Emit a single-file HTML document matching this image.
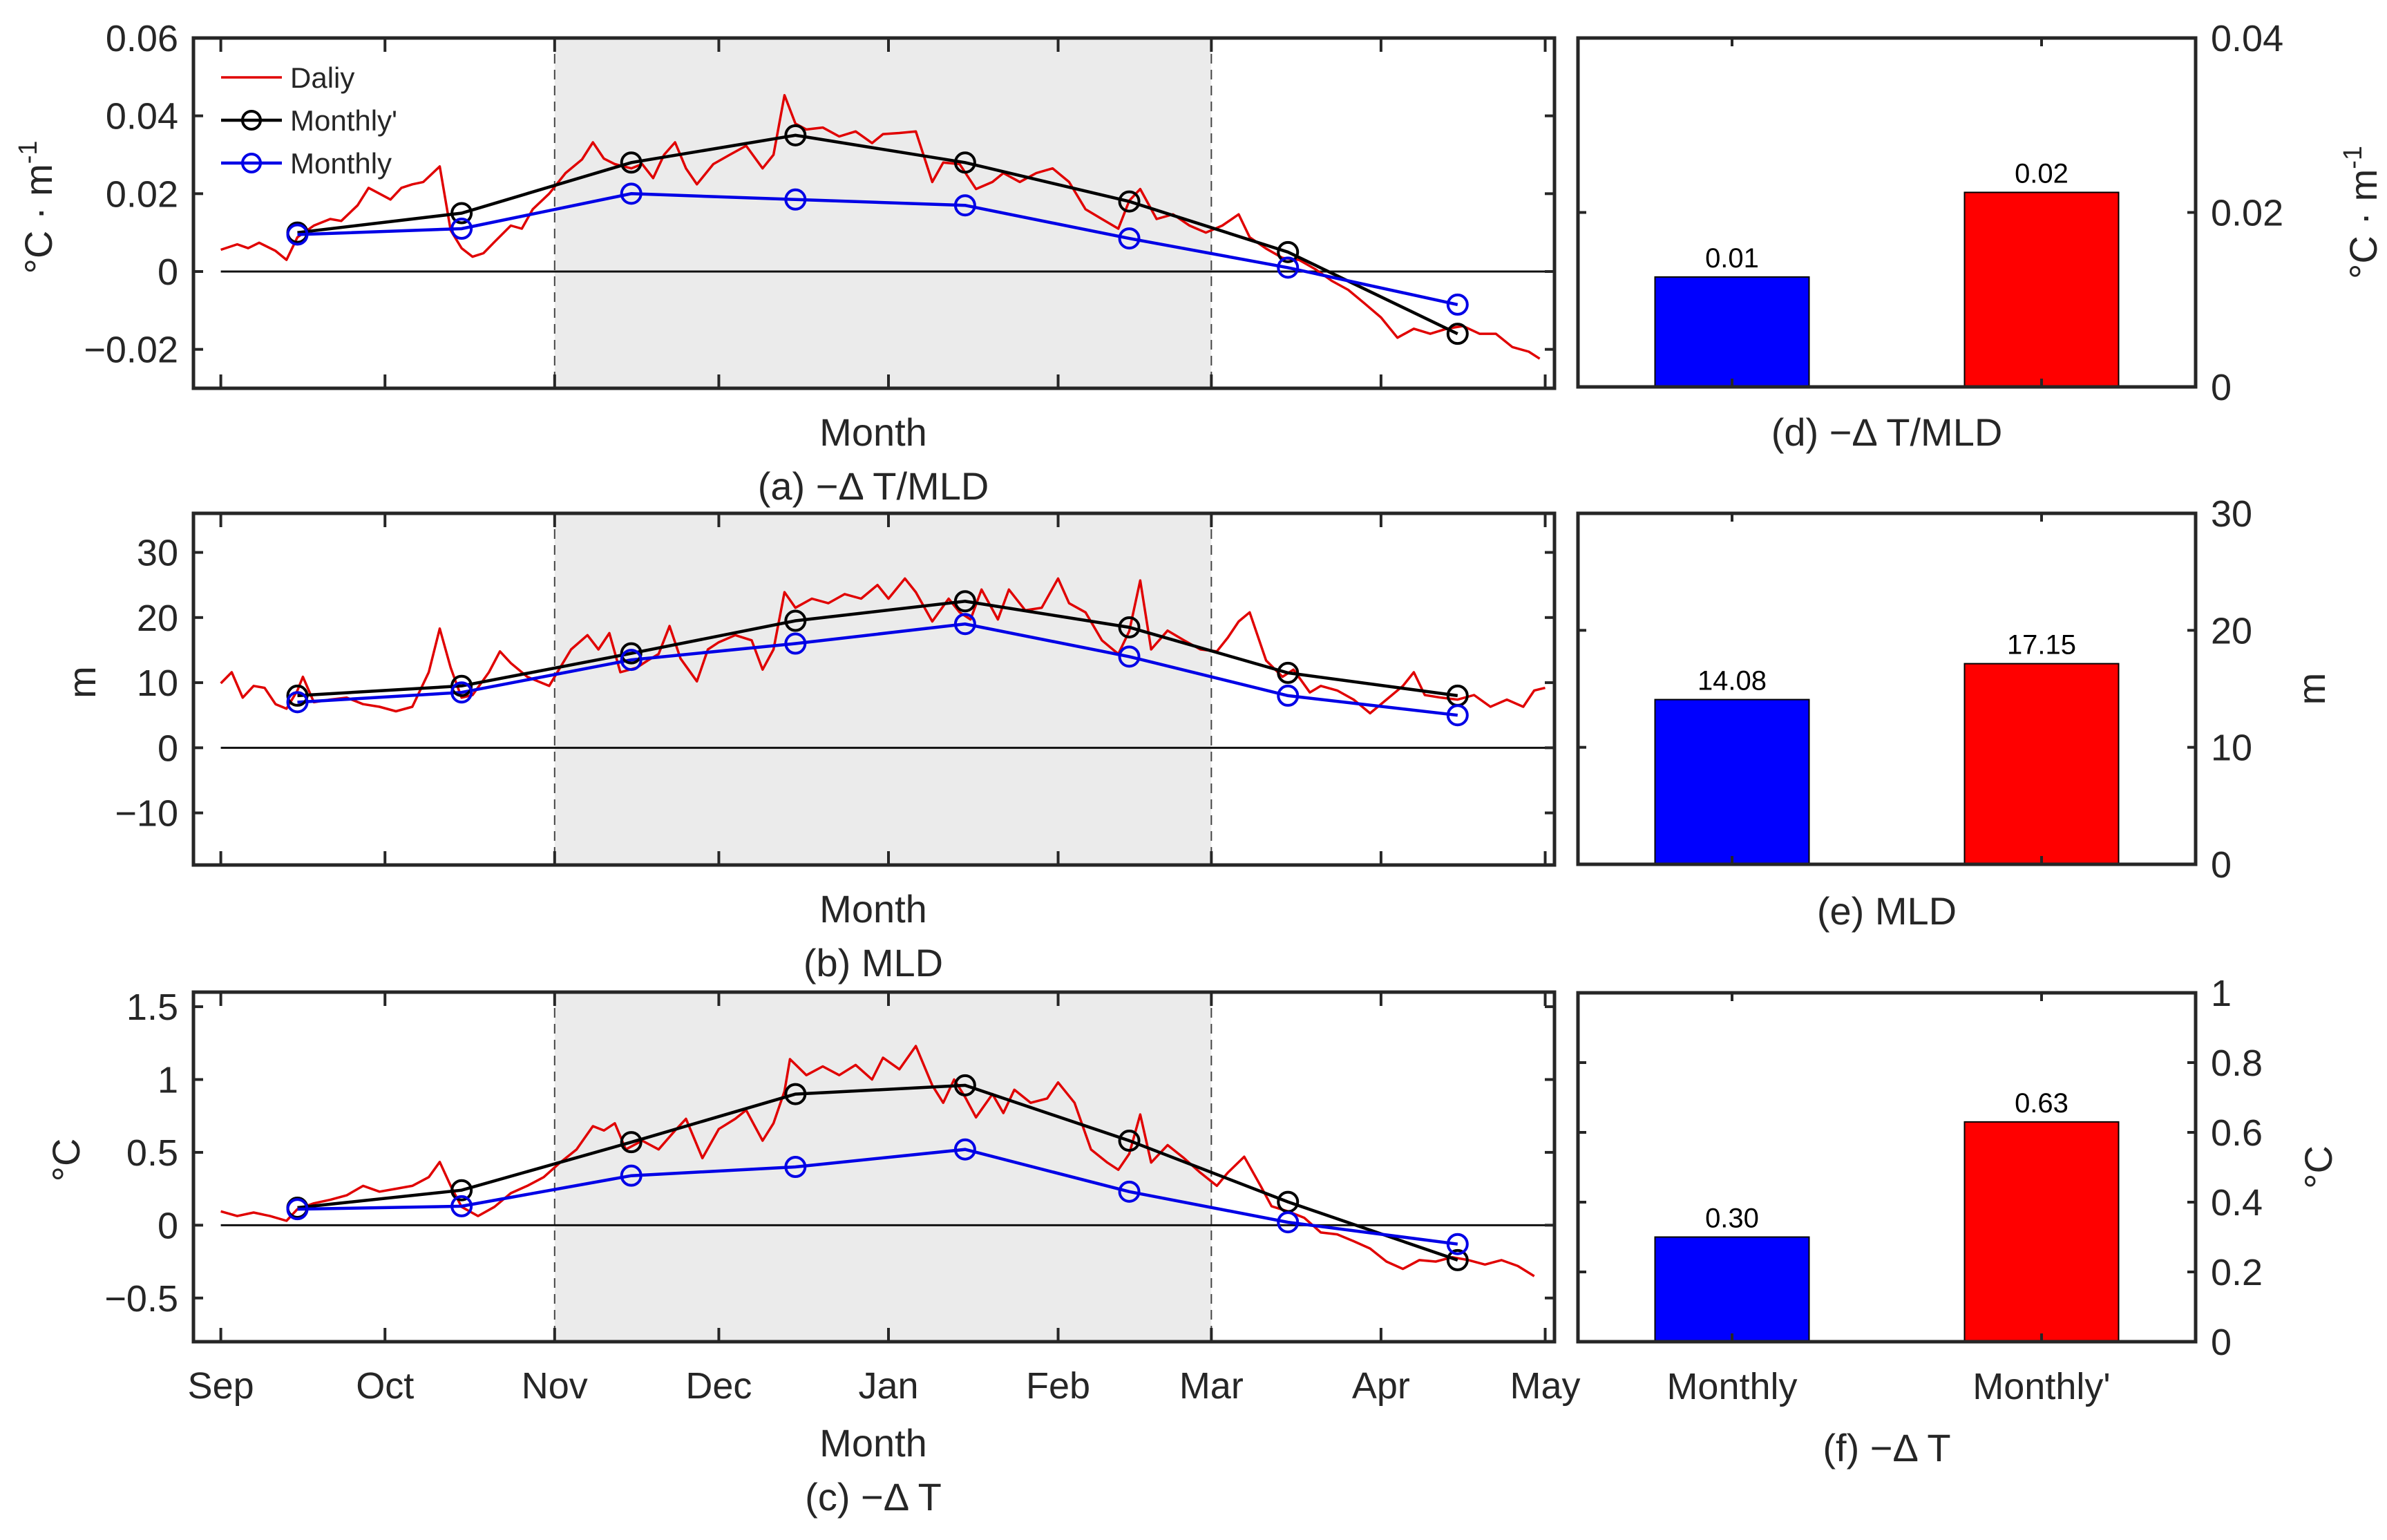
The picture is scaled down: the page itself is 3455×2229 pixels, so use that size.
<!DOCTYPE html>
<html><head><meta charset="utf-8">
<style>
html,body{margin:0;padding:0;background:#fff;}
svg{display:block;font-family:"Liberation Sans",Arial,sans-serif;}
</style></head>
<body>
<svg id="fig" width="3455" height="2229" viewBox="0 0 3455 2229" xmlns="http://www.w3.org/2000/svg"></svg>
<script>
// ---------- data ----------
const monthLabels = ["Sep","Oct","Nov","Dec","Jan","Feb","Mar","Apr","May"];
const monthStartDays = [0,30,61,91,122,153,181,212,242];
const monthlyDays = [14,44,75,105,136,166,195,226];

const dailyDays = [0,3,5,7,10,12,14,17,20,22,25,27,29,31,33,35,37,40,42,44,46,48,50,53,55,57,60,63,66,68,70,72,75,77,79,81,83,85,87,90,93,96,99,101,103,105,107,110,113,116,119,121,124,127,130,132,135,138,141,143,146,149,152,155,158,161,164,166,168,171,174,177,180,183,186,188,191,194,197,200,203,206,209,212,215,218,221,224,227,230,233,236,239,241];
const dailyA = [0.0056,0.007,0.006,0.0074,0.0053,0.003,0.0088,0.0118,0.0135,0.013,0.017,0.0215,0.020,0.0185,0.0215,0.0224,0.023,0.027,0.0106,0.006,0.0038,0.0047,0.0076,0.0118,0.011,0.016,0.020,0.0253,0.0288,0.0332,0.029,0.0276,0.0265,0.0276,0.024,0.030,0.0332,0.0265,0.0224,0.0276,0.030,0.0323,0.0265,0.030,0.0453,0.038,0.0365,0.037,0.0347,0.036,0.033,0.0353,0.0356,0.036,0.023,0.028,0.0276,0.0212,0.023,0.0253,0.023,0.0253,0.0265,0.023,0.016,0.0135,0.011,0.0182,0.0212,0.0135,0.0147,0.0118,0.010,0.0118,0.0147,0.0088,0.0059,0.0035,0.003,0.0006,-0.0024,-0.0047,-0.0082,-0.0118,-0.017,-0.0147,-0.016,-0.0147,-0.014,-0.016,-0.016,-0.0194,-0.0206,-0.0224];

const dailyDaysB = [0,2,4,6,8,10,12,14,15,17,20,23,26,29,32,35,38,40,42,44,46,49,51,53,56,58,60,62,64,67,69,71,73,76,78,80,82,84,87,89,91,94,97,99,101,103,105,108,111,114,117,120,122,125,127,130,133,135,137,139,142,144,147,150,153,155,158,161,164,166,168,170,173,176,179,182,184,186,188,191,194,196,199,201,204,207,210,213,216,218,220,223,226,229,232,235,238,240,242];
const dailyB = [9.9,11.6,7.7,9.5,9.2,6.7,6.0,8.8,10.9,7.0,7.4,7.7,6.7,6.3,5.6,6.3,11.6,18.3,12.3,7.7,8.1,11.6,14.8,13.0,10.9,10.2,9.5,12.3,15.1,17.3,15.1,17.6,11.6,12.3,13.4,14.4,18.7,13.7,10.2,15.1,16.2,17.3,16.5,12.0,15.1,23.9,21.5,22.9,22.2,23.6,22.9,25.0,22.9,26.0,23.9,19.4,22.9,20.8,19.7,24.3,19.7,24.3,21.1,21.5,26.0,22.2,20.8,16.5,14.4,17.9,25.7,15.1,18.0,16.5,15.1,14.8,16.9,19.4,20.8,13.4,10.9,12.0,8.5,9.5,8.8,7.4,5.3,7.4,9.5,11.6,8.1,7.7,7.4,8.1,6.3,7.4,6.3,8.8,9.2];

const dailyDaysC = [0,3,6,9,12,14,17,20,23,26,29,32,35,38,40,42,44,47,50,53,56,59,62,65,68,70,72,74,77,80,83,85,88,91,94,96,99,101,103,104,107,110,113,116,119,121,124,127,130,132,134,136,138,141,143,145,148,151,153,156,159,162,164,166,168,170,173,176,179,182,184,187,190,192,195,198,201,204,207,210,213,216,219,222,225,228,231,234,237,240];
const dailyC = [0.095,0.063,0.087,0.063,0.03,0.11,0.15,0.174,0.205,0.27,0.23,0.25,0.27,0.33,0.434,0.27,0.126,0.063,0.126,0.22,0.27,0.33,0.43,0.52,0.68,0.65,0.70,0.52,0.58,0.52,0.65,0.73,0.46,0.66,0.73,0.79,0.58,0.70,0.92,1.14,1.03,1.09,1.03,1.10,1.0,1.15,1.07,1.23,0.96,0.84,1.0,0.88,0.74,0.9,0.77,0.93,0.84,0.87,0.98,0.84,0.52,0.43,0.38,0.49,0.76,0.43,0.55,0.46,0.36,0.27,0.36,0.47,0.27,0.13,0.095,0.05,-0.05,-0.063,-0.11,-0.16,-0.25,-0.30,-0.24,-0.25,-0.22,-0.24,-0.27,-0.24,-0.28,-0.35];

const monthlyPrimeA = [0.010,0.015,0.028,0.035,0.028,0.018,0.005,-0.016];
const monthlyA = [0.0095,0.011,0.020,0.0185,0.017,0.0085,0.001,-0.0085];
const monthlyPrimeB = [8,9.5,14.5,19.5,22.5,18.5,11.5,8];
const monthlyB = [7,8.5,13.5,16,19,14,8,5];
const monthlyPrimeC = [0.12,0.24,0.57,0.9,0.96,0.58,0.16,-0.24];
const monthlyC = [0.11,0.13,0.34,0.40,0.52,0.23,0.02,-0.13];

const barCategories = ["Monthly","Monthly'"];
const barD = [0.0126,0.0223];
const barDLabels = ["0.01","0.02"];
const barE = [14.08,17.15];
const barELabels = ["14.08","17.15"];
const barF = [0.30,0.63];
const barFLabels = ["0.30","0.63"];

const ticksA = [-0.02,0,0.02,0.04,0.06];
const tickLabelsA = ["-0.02","0","0.02","0.04","0.06"];
const ticksB = [-10,0,10,20,30];
const tickLabelsB = ["-10","0","10","20","30"];
const ticksC = [-0.5,0,0.5,1,1.5];
const tickLabelsC = ["-0.5","0","0.5","1","1.5"];
const ticksD = [0,0.02,0.04];
const tickLabelsD = ["0","0.02","0.04"];
const ticksE = [0,10,20,30];
const tickLabelsE = ["0","10","20","30"];
const ticksF = [0,0.2,0.4,0.6,0.8,1];
const tickLabelsF = ["0","0.2","0.4","0.6","0.8","1"];

// ---------- drawing ----------
const NS = "http://www.w3.org/2000/svg";
const svg = document.getElementById("fig");
const AX = "#262626";
function mk(tag, attrs, parent){
  const e = document.createElementNS(NS, tag);
  for (const k in attrs) e.setAttribute(k, attrs[k]);
  (parent||svg).appendChild(e);
  return e;
}
function txt(s, x, y, size, anchor, parent, rot){
  const t = mk("text", {x:x, y:y, "font-size":size, "text-anchor":anchor||"middle", fill:AX}, parent);
  if (rot) t.setAttribute("transform", "rotate(" + rot + " " + x + " " + y + ")");
  t.textContent = s;
  return t;
}

const LX0 = 280, LX1 = 2250, XMIN = -5, XMAX = 243.7;
function xDay(d){ return LX0 + (d - XMIN) / (XMAX - XMIN) * (LX1 - LX0); }

function linePanel(cfg){
  const g = mk("g", {});
  
  
  const y = v => cfg.top + (cfg.ymax - v) / (cfg.ymax - cfg.ymin) * (cfg.bottom - cfg.top);
  // shading Nov–Mar
  const sh = mk("rect", {x:xDay(61), y:cfg.top, width:xDay(181)-xDay(61), height:cfg.bottom-cfg.top, fill:"#ebebeb"}, g);
  
  
  [61,181].forEach(d => {
    const l = mk("line", {x1:xDay(d), x2:xDay(d), y1:cfg.top, y2:cfg.bottom, stroke:"#444", "stroke-width":2, "stroke-dasharray":"14,9"}, g);
    
    
  });
  // zero line
  const z = mk("line", {x1:xDay(0), x2:xDay(242), y1:y(0), y2:y(0), stroke:"#111", "stroke-width":3}, g);
  
  
  // daily
  const pts = cfg.dDays.map((d,i) => xDay(d).toFixed(1) + "," + y(cfg.daily[i]).toFixed(1)).join(" ");
  const dl = mk("polyline", {points:pts, fill:"none", stroke:"#e00000", "stroke-width":3.5, "stroke-linejoin":"round"}, g);
  
  
  // monthly lines
  [[cfg.mPrime,"#000","monthly-prime"],[cfg.m,"#0000e6","monthly"]].forEach(([arr,col,nm]) => {
    const p = monthlyDays.map((d,i) => xDay(d).toFixed(1) + "," + y(arr[i]).toFixed(1)).join(" ");
    const pl = mk("polyline", {points:p, fill:"none", stroke:col, "stroke-width":4.5}, g);
    
    
  });
  [[cfg.mPrime,"#000","monthly-prime"],[cfg.m,"#0000e6","monthly"]].forEach(([arr,col,nm]) => {
    monthlyDays.forEach((d,i) => {
      const c = mk("circle", {cx:xDay(d), cy:y(arr[i]), r:14, fill:"none", stroke:col, "stroke-width":4}, g);
      
      
    });
  });
  // axes box
  const bx = mk("rect", {x:LX0, y:cfg.top, width:LX1-LX0, height:cfg.bottom-cfg.top, fill:"none", stroke:AX, "stroke-width":5}, g);
  
  
  // x ticks
  monthStartDays.forEach(d => {
    mk("line", {x1:xDay(d), x2:xDay(d), y1:cfg.bottom, y2:cfg.bottom-20, stroke:AX, "stroke-width":4}, g);
    mk("line", {x1:xDay(d), x2:xDay(d), y1:cfg.top, y2:cfg.top+20, stroke:AX, "stroke-width":4}, g);
  });
  // y ticks
  cfg.ticks.forEach((v,i) => {
    mk("line", {x1:LX0, x2:LX0+14, y1:y(v), y2:y(v), stroke:AX, "stroke-width":4}, g);
    mk("line", {x1:LX1, x2:LX1-14, y1:y(v), y2:y(v), stroke:AX, "stroke-width":4}, g);
    const t = txt(cfg.tickLabels[i].replace("-","\u2212"), LX0-22, y(v)+19, 54, "end", g);
    
    
  });
  if (cfg.showMonths) {
    monthStartDays.forEach((d,i) => {
      const t = txt(monthLabels[i], xDay(d), cfg.bottom+82, 54, "middle", g);
      
      
    });
  }
  const xl = txt("Month", 1264, cfg.monthY, 56, "middle", g);
  
  
  const tt = txt(cfg.title, 1264, cfg.monthY+78, 56, "middle", g);
  
  
  const yl = txt(cfg.ylab, cfg.ylabX, (cfg.top+cfg.bottom)/2 - 10, 56, "middle", g, -90);
  
  
  return {g, y};
}

function ylabelNode(parent, x, y, kind){
  const t = mk("text", {x:x, y:y, "font-size":56, "text-anchor":"middle", fill:AX, transform:"rotate(-90 " + x + " " + y + ")"}, parent);
  if (kind === "cm") {
    t.appendChild(document.createTextNode("\u00B0C \u00B7 m"));
    const s = mk("tspan", {dy:-22, "font-size":38}, t); s.textContent = "-1";
  } else t.textContent = kind;
  return t;
}

const pa = linePanel({name:"panel-a", top:55, bottom:562, ymin:-0.03, ymax:0.06, dDays:dailyDays, daily:dailyA, mPrime:monthlyPrimeA, m:monthlyA, ticks:ticksA, tickLabels:tickLabelsA, monthY:645, title:"(a) \u2212\u0394 T/MLD", ylab:"", ylabX:60});
const pb = linePanel({name:"panel-b", top:743, bottom:1252, ymin:-18, ymax:36, dDays:dailyDaysB, daily:dailyB, mPrime:monthlyPrimeB, m:monthlyB, ticks:ticksB, tickLabels:tickLabelsB, monthY:1335, title:"(b) MLD", ylab:"m", ylabX:138});
const pc = linePanel({name:"panel-c", top:1436, bottom:1942, ymin:-0.8, ymax:1.6, dDays:dailyDaysC, daily:dailyC, mPrime:monthlyPrimeC, m:monthlyC, ticks:ticksC, tickLabels:tickLabelsC, monthY:2108, title:"(c) \u2212\u0394 T", ylab:"\u00B0C", ylabX:115, showMonths:true});
const yla = ylabelNode(pa.g, 75, 300, "cm");



// legend in panel a
const leg = mk("g", {});


[["Daliy","#e00000",false,112],["Monthly'","#000",true,174],["Monthly","#0000e6",true,236]].forEach(([lab,col,mark,yy]) => {
  const e = mk("g", {}, leg);
  
  
  mk("line", {x1:320, x2:408, y1:yy, y2:yy, stroke:col, "stroke-width":mark?4.5:3.5}, e);
  if (mark) mk("circle", {cx:364, cy:yy, r:13, fill:"none", stroke:col, "stroke-width":4}, e);
  txt(lab, 420, yy+15, 42, "start", e);
});

// bar panels
const BX0 = 2284, BX1 = 3178, BC = [2507, 2955], BW = 223;
function barPanel(cfg){
  const g = mk("g", {});
  
  
  const y = v => cfg.bottom - (v - 0) / cfg.ymax * (cfg.bottom - cfg.top);
  const cols = ["#0000ff","#ff0000"];
  cfg.vals.forEach((v,i) => {
    const r = mk("rect", {x:BC[i]-BW/2, y:y(v), width:BW, height:cfg.bottom-y(v), fill:cols[i], stroke:"#000", "stroke-width":2}, g);
    
    
    const t = txt(cfg.labels[i], BC[i], y(v)-14, 40, "middle", g);
    t.setAttribute('fill', '#000');
    
    
  });
  const bx = mk("rect", {x:BX0, y:cfg.top, width:BX1-BX0, height:cfg.bottom-cfg.top, fill:"none", stroke:AX, "stroke-width":5}, g);
  
  
  BC.forEach(cx => {
    mk("line", {x1:cx, x2:cx, y1:cfg.top, y2:cfg.top+12, stroke:AX, "stroke-width":4}, g);
    mk("line", {x1:cx, x2:cx, y1:cfg.bottom, y2:cfg.bottom-12, stroke:AX, "stroke-width":4}, g);
  });
  cfg.ticks.forEach((v,i) => {
    mk("line", {x1:BX1, x2:BX1-12, y1:y(v), y2:y(v), stroke:AX, "stroke-width":4}, g);
    mk("line", {x1:BX0, x2:BX0+12, y1:y(v), y2:y(v), stroke:AX, "stroke-width":4}, g);
    const t = txt(cfg.tickLabels[i], BX1+22, y(v)+19, 54, "start", g);
    
    
  });
  if (cfg.showCats) barCategories.forEach((c,i) => {
    const t = txt(c, BC[i], 2025, 54, "middle", g);
    
    
  });
  const tt = txt(cfg.title, 2731, cfg.titleY, 56, "middle", g);
  
  
  const yl = ylabelNode(g, cfg.ylabX, (cfg.top+cfg.bottom)/2, cfg.ylab);
  
  
}
barPanel({name:"panel-d", top:55, bottom:560, ymax:0.04, vals:barD, labels:barDLabels, ticks:ticksD, tickLabels:tickLabelsD, title:"(d) \u2212\u0394 T/MLD", titleY:645, ylab:"cm", ylabX:3440});
barPanel({name:"panel-e", top:743, bottom:1251, ymax:30, vals:barE, labels:barELabels, ticks:ticksE, tickLabels:tickLabelsE, title:"(e) MLD", titleY:1338, ylab:"m", ylabX:3365});
barPanel({name:"panel-f", top:1437, bottom:1942, ymax:1, vals:barF, labels:barFLabels, ticks:ticksF, tickLabels:tickLabelsF, title:"(f) \u2212\u0394 T", titleY:2115, ylab:"\u00B0C", ylabX:3375, showCats:true});
</script>
</body></html>
